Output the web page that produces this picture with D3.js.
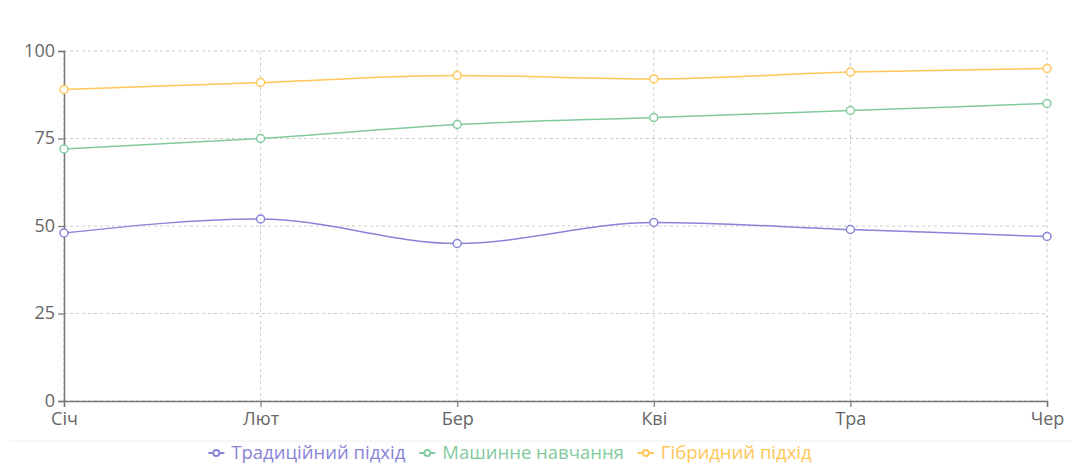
<!DOCTYPE html>
<html>
<head>
<meta charset="utf-8">
<script src="https://cdn.jsdelivr.net/npm/d3@7"></script>
<style>
  html, body { margin: 0; padding: 0; background: #fff; }
  svg { display: block; font-family: "Open Sans", "Noto Sans", sans-serif; }
</style>
</head>
<body>
<svg id="chart" width="1072" height="466"></svg>
<script>
// Months on the x axis
const months = ["Січ", "Лют", "Бер", "Кві", "Тра", "Чер"];
// Series values
const traditional = [48, 52, 45, 51, 49, 47];
const machineLearning = [72, 75, 79, 81, 83, 85];
const hybrid = [89, 91, 93, 92, 94, 95];
// Series names and y ticks
const seriesNames = ["Традиційний підхід", "Машинне навчання", "Гібридний підхід"];
const yTicks = [0, 25, 50, 75, 100];

const colors = ["#8884d8", "#82ca9d", "#ffc658"];
const series = [traditional, machineLearning, hybrid].map((vals, i) => ({
  name: seriesNames[i], color: colors[i],
  points: vals.map((v, j) => ({ m: months[j], v }))
}));

const svg = d3.select("#chart");
const plotLeft = 64, plotRight = 1047, plotTop = 51, plotBottom = 401;
const fontSize = 18;

const x = d3.scalePoint().domain(months).range([plotLeft, plotRight]);
const y = d3.scaleLinear().domain([0, 100]).range([plotBottom, plotTop]);

// Grid
const grid = svg.append("g").attr("stroke", "#ccc").attr("stroke-dasharray", "3 3");
grid.selectAll("line.h").data(yTicks).join("line").attr("class", "h")
  .attr("x1", plotLeft).attr("x2", plotRight).attr("y1", d => y(d)).attr("y2", d => y(d));
grid.selectAll("line.v").data(months).join("line").attr("class", "v")
  .attr("x1", d => x(d)).attr("x2", d => x(d)).attr("y1", plotTop).attr("y2", plotBottom);

// Axes
const xAxis = svg.append("g").attr("transform", `translate(0,${plotBottom})`)
  .call(d3.axisBottom(x).tickSize(6).tickPadding(3));
const yAxis = svg.append("g").attr("transform", `translate(${plotLeft},0)`)
  .call(d3.axisLeft(y).tickValues(yTicks).tickSize(6).tickPadding(3));
[xAxis, yAxis].forEach(g => {
  g.select(".domain").attr("stroke", "#777").attr("stroke-width", 1.5);
  g.selectAll(".tick line").attr("stroke", "#777").attr("stroke-width", 1.2);
  g.selectAll(".tick text").attr("fill", "#666").attr("font-size", fontSize)
    .attr("font-family", "\"Open Sans\", \"Noto Sans\", sans-serif");
});
xAxis.selectAll(".tick text").attr("dy", "0.85em");
yAxis.selectAll(".tick text").attr("dy", "0.3em");

// Lines
const line = d3.line().x(d => x(d.m)).y(d => y(d.v)).curve(d3.curveMonotoneX);
const lines = svg.append("g");
series.forEach(s => {
  lines.append("path").datum(s.points)
    .attr("fill", "none").attr("stroke", s.color).attr("stroke-width", 1.5)
    .attr("d", line);
  lines.append("g").selectAll("circle").data(s.points).join("circle")
    .attr("cx", d => x(d.m)).attr("cy", d => y(d.v)).attr("r", 4)
    .attr("fill", "#fff").attr("stroke", s.color).attr("stroke-width", 1.5);
});

// Legend separator
const defs = svg.append("defs");
const f = defs.append("filter").attr("id", "soft").attr("x", "-5%").attr("y", "-200%")
  .attr("width", "110%").attr("height", "500%");
f.append("feGaussianBlur").attr("stdDeviation", 1.2);
svg.append("line").attr("x1", 10).attr("x2", 1072).attr("y1", 442).attr("y2", 442)
  .attr("stroke", "#e6e6e6").attr("stroke-width", 2).attr("filter", "url(#soft)");
svg.append("line").attr("x1", 10).attr("x2", 1072).attr("y1", 441).attr("y2", 441)
  .attr("stroke", "#eeeeee").attr("stroke-width", 1);

// Legend, centred under the plot
const legend = svg.append("g").attr("font-size", 18.5);
let lx = 0;
const ly = 453;
series.forEach(s => {
  const g = legend.append("g").attr("transform", `translate(${lx},${ly})`);
  g.append("line").attr("x1", 0).attr("x2", 16).attr("y1", 0).attr("y2", 0)
    .attr("stroke", s.color).attr("stroke-width", 2);
  g.append("circle").attr("cx", 8).attr("cy", 0).attr("r", 3)
    .attr("fill", "#fff").attr("stroke", s.color).attr("stroke-width", 1.8);
  const t = g.append("text").attr("x", 23).attr("y", 0).attr("dy", "0.35em")
    .attr("fill", s.color).text(s.name);
  lx += 23 + t.node().getComputedTextLength() + 14;
});
const legendWidth = lx - 14;
legend.attr("transform", `translate(${510 - legendWidth / 2},0)`);
</script>
</body>
</html>
